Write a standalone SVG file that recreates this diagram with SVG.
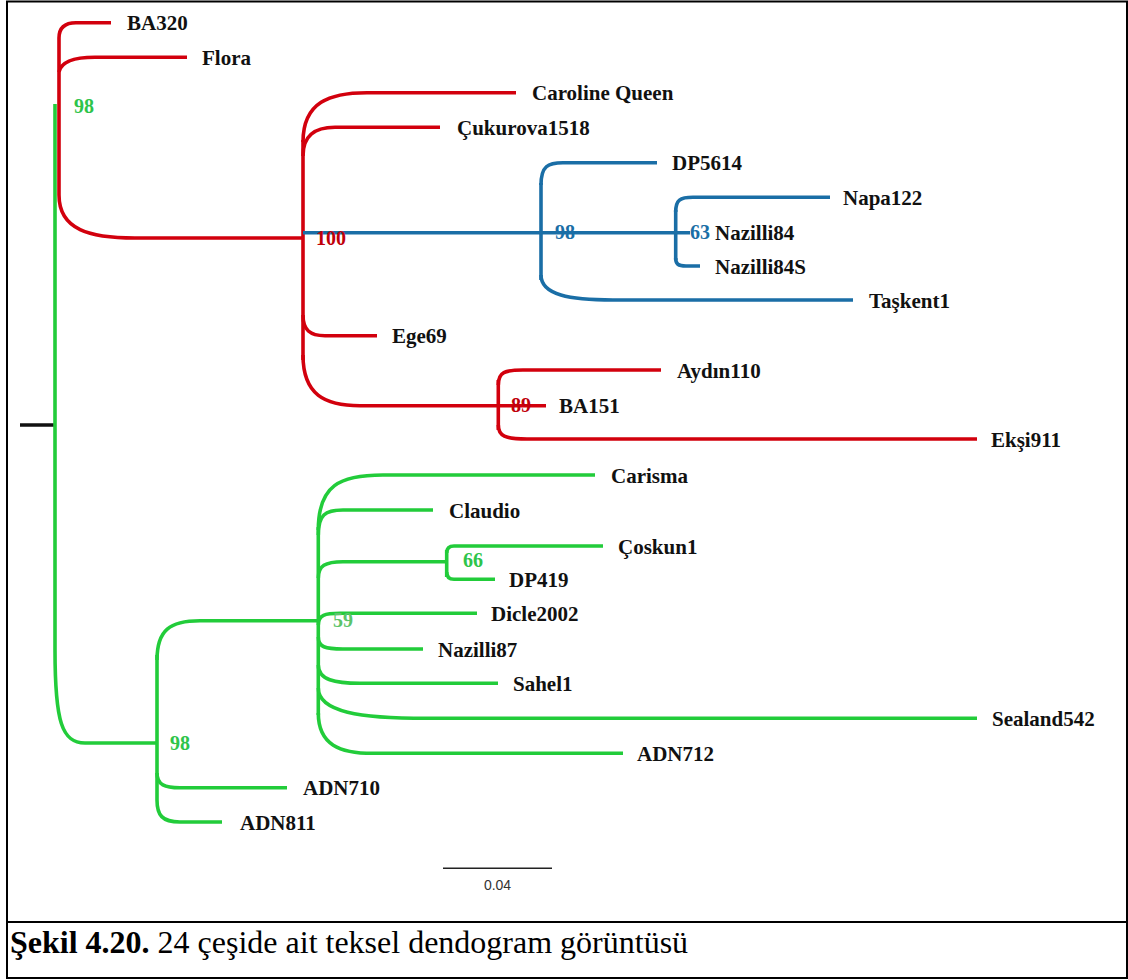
<svg xmlns="http://www.w3.org/2000/svg" width="1128" height="980" viewBox="0 0 1128 980">
<style>
.b{fill:none;stroke-width:3.6;stroke-linecap:butt}
.r{stroke:#d2000d}
.u{stroke:#1a6ea6}
.g{stroke:#22cc3a}
.lb{font-family:"Liberation Serif","Times New Roman",serif;font-weight:bold;font-size:21px;fill:#111}
.bs{font-family:"Liberation Serif","Times New Roman",serif;font-weight:bold;font-size:20px}
</style>
<rect x="0" y="0" width="1128" height="980" fill="#fff"/>
<rect x="7" y="1.5" width="1120" height="976.5" fill="none" stroke="#000" stroke-width="2"/>
<line x1="7" y1="922" x2="1128" y2="922" stroke="#000" stroke-width="2"/>
<g id="connectors">
<line x1="20" y1="425" x2="54" y2="425" stroke="#111" stroke-width="3.6"/>
<path class="b g" d="M55,104 V650 C55,722 62,743 85,743 H157"/>
<path class="b r" d="M111,22.7 H76 Q59,22.7 59,38 V195 C59,230 90,238 135,238 H303"/>
<path class="b r" d="M59,72 Q62,57.3 95,57.3 H187"/>
<path class="b r" d="M303,140 V360"/>
<path class="b r" d="M303,142 C303,102 330,92.7 367,92.7 H516"/>
<path class="b r" d="M303,156 C303,135 315,127.3 335,127.3 H440"/>
<path class="b r" d="M303,315 C303,330 310,335.7 325,335.7 H377"/>
<path class="b r" d="M303,355 C303,395 325,405.7 360,405.7 H546"/>
<path class="b r" d="M498.3,380 V430"/>
<path class="b r" d="M498.3,385 C498.3,372 505,370 523,370 H661"/>
<path class="b r" d="M498.3,425 C498.3,436 505,439 527,439 H977"/>
<path class="b u" d="M303,232.7 H690"/>
<path class="b u" d="M541,183 V280"/>
<path class="b u" d="M541,185 C541,166 548,162.7 563,162.7 H657"/>
<path class="b u" d="M541,275 C541,295 570,300 613,300 H853"/>
<path class="b u" d="M675.7,210 V260"/>
<path class="b u" d="M675.7,212 C675.7,200 680,197.3 693,197.3 H830"/>
<path class="b u" d="M675.7,258 C675.7,264 678,266 686,266 H700"/>
<path class="b g" d="M157,655 V800"/>
<path class="b g" d="M157,660 C157,630 170,620.7 200,620.7 H318.3"/>
<path class="b g" d="M157,773 C157,785 165,787.7 180,787.7 H287"/>
<path class="b g" d="M157,800 C157,815 162,822 180,822 H222"/>
<path class="b g" d="M318.3,527 V715"/>
<path class="b g" d="M318.3,530 C318.3,485 340,475 383,475 H595"/>
<path class="b g" d="M318.3,535 C318.3,515 325,510 343,510 H433"/>
<path class="b g" d="M318.3,578 C318.3,566 325,561.7 343,561.7 H446.7"/>
<path class="b g" d="M446.7,550 V577"/>
<path class="b g" d="M446.7,553 Q446.7,546 454,546 H603"/>
<path class="b g" d="M446.7,572 Q446.7,579.3 454,579.3 H495"/>
<path class="b g" d="M318.3,625 C318.3,615 325,613.3 340,613.3 H477"/>
<path class="b g" d="M318.3,637 C318.3,647 325,649 343,649 H423"/>
<path class="b g" d="M318.3,665 C318.3,680 335,683.3 360,683.3 H498"/>
<path class="b g" d="M318.3,688 C318.3,712 360,718.3 427,718.3 H977"/>
<path class="b g" d="M318.3,713 C318.3,745 340,753.3 373,753.3 H623"/>
</g>
<g id="n-BA320"><text class="lb" x="127" y="30">BA320</text></g>
<g id="n-Flora"><text class="lb" x="202" y="65">Flora</text></g>
<g id="n-CarolineQueen"><text class="lb" x="532" y="100">Caroline Queen</text></g>
<g id="n-Cukurova1518"><text class="lb" x="457" y="135">Çukurova1518</text></g>
<g id="n-DP5614"><text class="lb" x="672" y="170">DP5614</text></g>
<g id="n-Napa122"><text class="lb" x="843" y="205">Napa122</text></g>
<g id="n-Nazilli84"><text class="lb" x="715" y="240">Nazilli84</text></g>
<g id="n-Nazilli84S"><text class="lb" x="715" y="273.5">Nazilli84S</text></g>
<g id="n-Taskent1"><text class="lb" x="869" y="307.5">Taşkent1</text></g>
<g id="n-Ege69"><text class="lb" x="392" y="343">Ege69</text></g>
<g id="n-Aydin110"><text class="lb" x="677" y="377.5">Aydın110</text></g>
<g id="n-BA151"><text class="lb" x="559" y="413">BA151</text></g>
<g id="n-Eksi911"><text class="lb" x="991" y="447">Ekşi911</text></g>
<g id="n-Carisma"><text class="lb" x="611" y="482.5">Carisma</text></g>
<g id="n-Claudio"><text class="lb" x="449" y="517.5">Claudio</text></g>
<g id="n-Coskun1"><text class="lb" x="618" y="553.5">Çoskun1</text></g>
<g id="n-DP419"><text class="lb" x="509" y="587">DP419</text></g>
<g id="n-Dicle2002"><text class="lb" x="491" y="621">Dicle2002</text></g>
<g id="n-Nazilli87"><text class="lb" x="438" y="656.5">Nazilli87</text></g>
<g id="n-Sahel1"><text class="lb" x="513" y="691">Sahel1</text></g>
<g id="n-Sealand542"><text class="lb" x="992" y="726">Sealand542</text></g>
<g id="n-ADN712"><text class="lb" x="637" y="761">ADN712</text></g>
<g id="n-ADN710"><text class="lb" x="303" y="795">ADN710</text></g>
<g id="n-ADN811"><text class="lb" x="240" y="830">ADN811</text></g>
<g id="bootstrap">
<text class="bs" x="74" y="113" fill="#2ec44a">98</text>
<text class="bs" x="316" y="245" fill="#c0000a">100</text>
<text class="bs" x="555" y="239" fill="#1a6ea6">98</text>
<text class="bs" x="690" y="239" fill="#1a6ea6">63</text>
<text class="bs" x="511" y="412" fill="#c0000a">89</text>
<text class="bs" x="463" y="567" fill="#2ec44a">66</text>
<text class="bs" x="333" y="627" fill="#5cc46a">59</text>
<text class="bs" x="170" y="750" fill="#2ec44a">98</text>
</g>
<g id="scale">
<line x1="443" y1="868.3" x2="552" y2="868.3" stroke="#222" stroke-width="1.5"/>
<text x="497.5" y="890" text-anchor="middle" font-family="Liberation Sans, Arial, sans-serif" font-size="14px" fill="#333">0.04</text>
</g>
<text x="10" y="953" font-family="Liberation Serif, Times New Roman, serif" font-size="32px" fill="#000"><tspan font-weight="bold">Şekil 4.20.</tspan> 24 çeşide ait teksel dendogram görüntüsü</text>
</svg>
